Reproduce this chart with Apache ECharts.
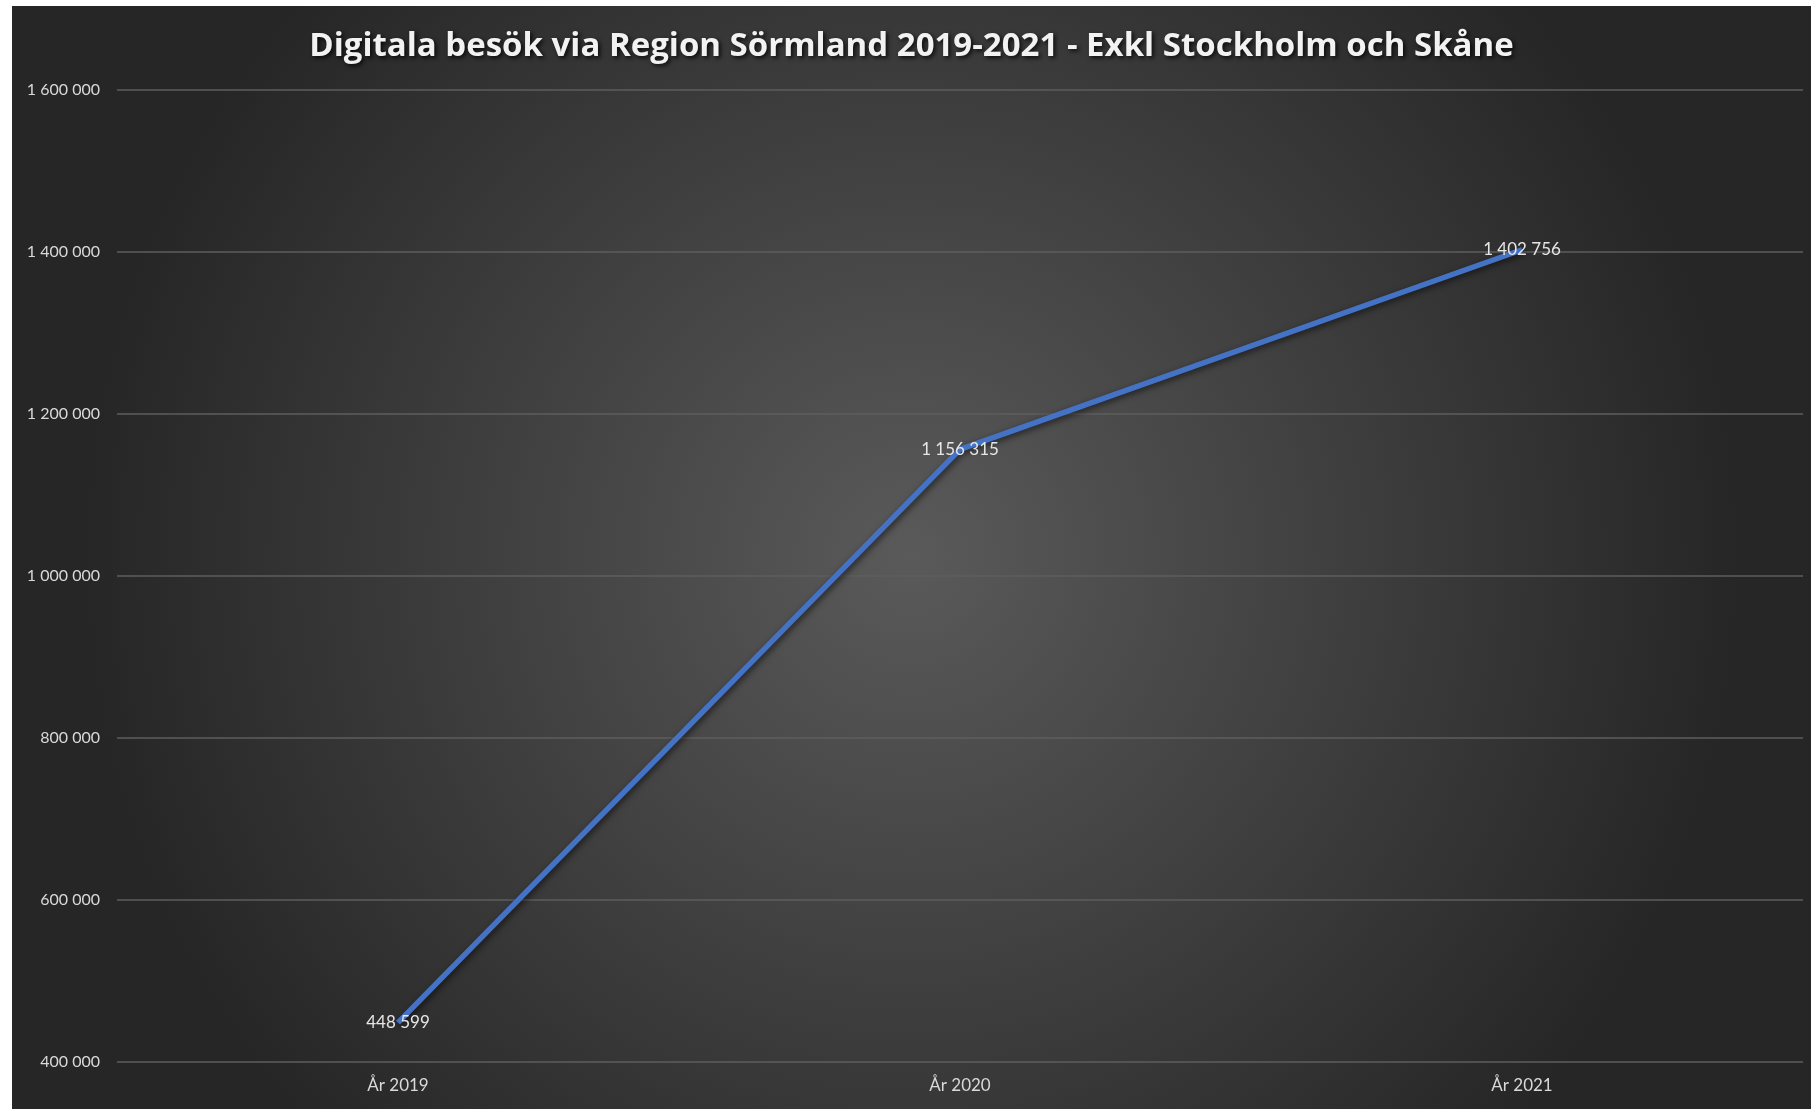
<!DOCTYPE html>
<html>
<head>
<meta charset="utf-8">
<script src="https://cdn.jsdelivr.net/npm/echarts@6/dist/echarts.min.js"></script>
<style>
  html, body { margin: 0; padding: 0; background: #ffffff; width: 1811px; height: 1109px; overflow: hidden; }
  #chart { position: absolute; left: 12px; top: 6px; width: 1799px; height: 1103px; }
</style>
</head>
<body>
<div id="chart"></div>
<script>
const categories = ['År 2019', 'År 2020', 'År 2021'];
const visits = [448599, 1156315, 1402756];
const yMin = 400000, yMax = 1600000, yStep = 200000;

function fmt(v) {
  return String(v).replace(/\B(?=(\d{3})+(?!\d))/g, ' ');
}

const chart = echarts.init(document.getElementById('chart'));
chart.setOption({
  backgroundColor: {
    type: 'radial', x: 0.5, y: 0.5, r: 0.75,
    colorStops: [
      { offset: 0, color: '#5a5a5a' },
      { offset: 1, color: '#262626' }
    ]
  },
  title: {
    text: 'Digitala besök via Region Sörmland 2019-2021 - Exkl Stockholm och Skåne',
    left: 'center',
    top: 19,
    textStyle: {
      color: '#f2f2f2',
      fontFamily: 'Open Sans',
      fontWeight: 'bold',
      fontSize: 33,
      textShadowColor: 'rgba(0,0,0,0.8)',
      textShadowBlur: 4,
      textShadowOffsetX: 2,
      textShadowOffsetY: 2
    }
  },
  grid: { left: 105, right: 8, top: 84, bottom: 47, containLabel: false },
  xAxis: {
    type: 'category',
    data: categories,
    boundaryGap: true,
    axisLine: { show: false },
    axisTick: { show: false },
    axisLabel: { color: '#d9d9d9', fontFamily: 'Lato', fontSize: 17, margin: 15 }
  },
  yAxis: {
    type: 'value',
    min: yMin, max: yMax, interval: yStep,
    axisLine: { show: false },
    axisTick: { show: false },
    axisLabel: { color: '#d9d9d9', fontFamily: 'Lato', fontSize: 16, margin: 17, formatter: fmt },
    splitLine: { lineStyle: { color: '#5e5e5e', width: 1.5 } }
  },
  series: [{
    type: 'line',
    data: visits,
    symbol: 'circle',
    symbolSize: 2,
    showSymbol: true,
    itemStyle: { color: 'rgba(68,114,196,0)', borderWidth: 0 },
    lineStyle: {
      color: '#4472c4', width: 5.5,
      shadowColor: 'rgba(0,0,0,0.6)', shadowBlur: 6, shadowOffsetX: 2, shadowOffsetY: 2
    },
    label: {
      show: true,
      position: 'inside',
      color: '#e6e6e6',
      fontFamily: 'Lato',
      fontSize: 17,
      formatter: p => fmt(p.value)
    }
  }]
});
</script>
</body>
</html>
